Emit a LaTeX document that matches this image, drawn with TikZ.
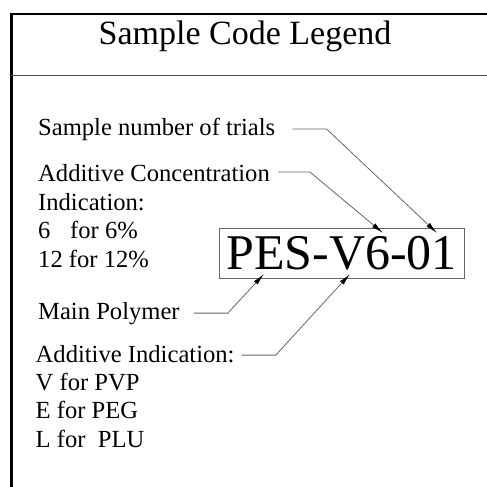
\documentclass[tikz,border=0pt]{standalone}
\usepackage{fontspec}
\setmainfont{Liberation Serif}
\usetikzlibrary{arrows.meta}

\begin{document}
\begin{tikzpicture}[x=1pt, y=-1pt,
  lbl/.style = {anchor=base west, inner sep=0pt, font=\fontsize{24.6}{28}\selectfont},
  lead/.style = {draw=black!60, line width=0.8pt, -{Latex[length=12pt,width=5pt,color=black]}}]
  \useasboundingbox (0,0) rectangle (487,487);
  % frame
  \draw[line width=2.6pt] (11.3,487) -- (11.3,14) -- (487,14);
  \draw[line width=0.8pt, black!70] (11,75) -- (487,75);
  \node[anchor=base, inner sep=0pt, font=\fontsize{34}{40}\selectfont] (title) at (245,45) {Sample Code Legend};
  % code
  \node[draw=black!60, line width=0.8pt, inner sep=0pt, minimum width=245pt, minimum height=50pt,
        font=\fontsize{50}{50}\selectfont] (code) at (341.5,253) {PES-V6-01};
  \coordinate (tip01) at (437,233);
  \coordinate (tip6) at (383,233);
  \coordinate (tipPES) at (264,274);
  \coordinate (tipV) at (350,274);
  % labels
  \node[lbl] (trials) at (38,135) {Sample number of trials};
  \node[lbl] (conc) at (38,181.5) {Additive Concentration};
  \node[lbl] (conc2) at (38,210) {Indication:};
  \node[lbl] (conc3) at (38,238.5) {6\hspace{0.8em}for 6\%};
  \node[lbl] (conc4) at (38,267) {12 for 12\%};
  \node[lbl] (main) at (38,319) {Main Polymer};
  \node[lbl] (add) at (35.5,362) {Additive Indication:};
  \node[lbl] (add2) at (35.5,390) {V for PVP};
  \node[lbl] (add3) at (35.5,418.5) {E for PEG};
  \node[lbl] (add4) at (35.5,447) {L for\ \ PLU};
  % leaders
  \draw[lead] ([xshift=17pt]trials.east) -- ++(34,0) -- (tip01);
  \draw[lead] ([xshift=8pt,yshift=1pt]conc.east) -- ++(32,0) -- (tip6);
  \draw[lead] ([xshift=14pt]main.east) -- ++(34,0) -- (tipPES);
  \draw[lead] ([xshift=7pt,yshift=-1.5pt]add.east) -- ++(34,0) -- (tipV);
\end{tikzpicture}
\end{document}
